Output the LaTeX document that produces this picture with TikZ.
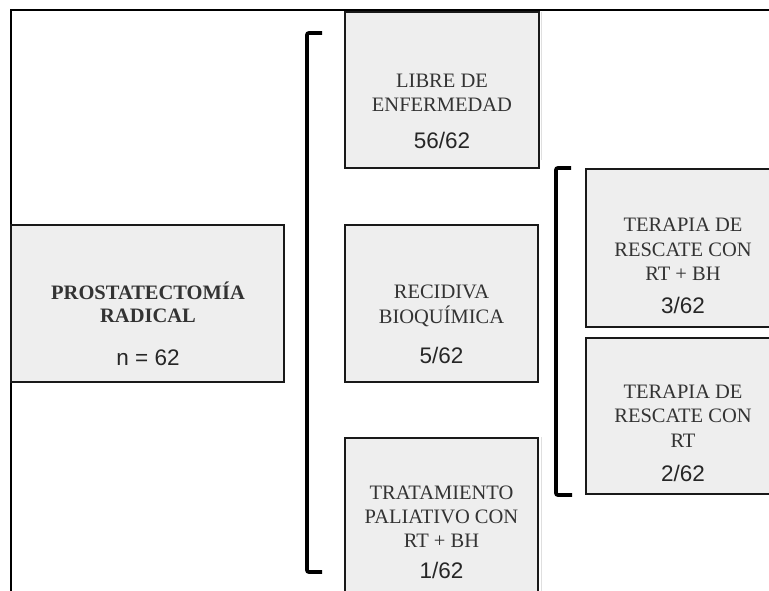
\documentclass[tikz,border=0pt]{standalone}
\usepackage{fontspec}
\setmainfont{Liberation Serif}
\setsansfont{Liberation Sans}

\begin{document}
\begin{tikzpicture}[x=1pt, y=-1pt,
    caja/.style={draw=black!90, fill=gray!13, line width=1.8pt, inner sep=0pt},
    texto/.style={font=\fontsize{20.5}{24}\selectfont, text=black!80, anchor=base, inner sep=0pt},
    cifra/.style={font=\sffamily\fontsize{22.5}{26}\selectfont, text=black!85, anchor=base, inner sep=0pt},
    llave/.style={line width=3.8pt, rounded corners=2pt}]
      \useasboundingbox (0,0) rectangle (769,591);
      \clip (0,0) rectangle (769,591);
      % marco
      \draw[gray!25, line width=0.8pt] (541,12) -- (541,160);
      \draw[gray!25, line width=0.8pt] (541,437) -- (541,591);
      \draw[line width=1.6pt] (769,10) -- (11,10) -- (11,591);
      % cajas
      \node[caja, minimum width=273, minimum height=157] (prost) at (147.5,303.5) {};
      \node[caja, minimum width=194, minimum height=156] (libre) at (442,90) {};
      \node[caja, minimum width=193, minimum height=157] (recid) at (441.5,303.5) {};
      \node[caja, minimum width=193, minimum height=180] (trat) at (441.5,528) {};
      \node[caja, minimum width=194, minimum height=158] (resc1) at (683,248) {};
      \node[caja, minimum width=194, minimum height=156] (resc2) at (683,416) {};
      % llaves
      \draw[llave] (322,33) -- (307,33) -- (307,572) -- (322,572);
      \draw[llave] (571,168) -- (556,168) -- (556,495) -- (572,495);
      % textos
      \foreach \t [count=\i] in {PROSTATECTOMÍA, RADICAL}
        \node[texto, font=\bfseries\fontsize{20.5}{24}\selectfont] (prost-\i) at (148, 276+23*\i) {\t};
      \node[cifra] (prost-n) at (148,365) {n = 62};
      \foreach \t [count=\i] in {LIBRE DE, ENFERMEDAD}
        \node[texto] (libre-\i) at (442, 63+24.5*\i) {\t};
      \node[cifra] (libre-n) at (442,149) {56/62};
      \foreach \t [count=\i] in {RECIDIVA, BIOQUÍMICA}
        \node[texto] (recid-\i) at (441.5, 273+25*\i) {\t};
      \node[cifra] (recid-n) at (441.5,363) {5/62};
      \foreach \t [count=\i] in {TRATAMIENTO, PALIATIVO CON, RT + BH}
        \node[texto] (trat-\i) at (441.5, 475+24*\i) {\t};
      \node[cifra] (trat-n) at (441.5,578) {1/62};
      \foreach \t [count=\i] in {TERAPIA DE, RESCATE CON, RT + BH}
        \node[texto] (resc1-\i) at (683, 208+24*\i) {\t};
      \node[cifra] (resc1-n) at (683,313) {3/62};
      \foreach \t [count=\i] in {TERAPIA DE, RESCATE CON, RT}
        \node[texto] (resc2-\i) at (683, 373.5+24.5*\i) {\t};
      \node[cifra] (resc2-n) at (683,481) {2/62};
\end{tikzpicture}
\end{document}
